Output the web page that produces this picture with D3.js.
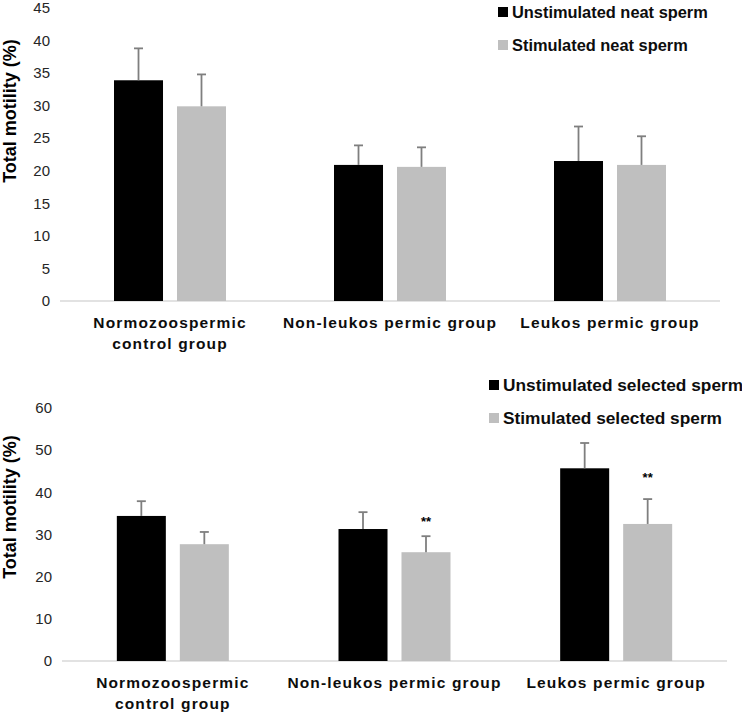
<!DOCTYPE html>
<html>
<head>
<meta charset="utf-8">
<script src="https://cdn.jsdelivr.net/npm/d3@7"></script>
<style>
  body { margin: 0; background: #fff; }
  svg { font-family: "Liberation Sans", Arial, sans-serif; }
</style>
</head>
<body>
<div id="chart"></div>
<script>
// Groups (two-line labels split with \n)
var groups = ["Normozoospermic\ncontrol group", "Non-leukos permic group", "Leukos permic group"];

// Top panel: neat sperm
var neatSeries = ["Unstimulated neat sperm", "Stimulated neat sperm"];
var neatUnstim = [33.9, 20.9, 21.5];
var neatUnstimErr = [4.9, 3.0, 5.3];
var neatStim = [29.9, 20.6, 20.9];
var neatStimErr = [4.9, 3.0, 4.4];
var neatTicks = [0, 5, 10, 15, 20, 25, 30, 35, 40, 45];

// Bottom panel: selected sperm
var selSeries = ["Unstimulated selected sperm", "Stimulated selected sperm"];
var selUnstim = [34.4, 31.3, 45.7];
var selUnstimErr = [3.5, 4.0, 6.0];
var selStim = [27.7, 25.8, 32.5];
var selStimErr = [2.9, 3.8, 5.9];
var selTicks = [0, 10, 20, 30, 40, 50, 60];
var selStars = ["", "**", "**"];

var colors = ["#000000", "#bfbfbf"];

var svg = d3.select("#chart").append("svg")
    .attr("width", 742)
    .attr("height", 714);

function drawPanel(opt) {
    var x = d3.scaleBand().domain(groups).range([opt.x0, opt.x1]);
    var y = d3.scaleLinear().domain(opt.domain).range([opt.yBottom, opt.yTop]);
    var x1 = d3.scaleBand().domain(opt.series)
        .range([(x.bandwidth() - 112) / 2, (x.bandwidth() + 112) / 2])
        .paddingInner(0.222);

    var g = svg.append("g");

    // tick labels, no tick marks
    g.selectAll(".tick-label")
        .data(opt.ticks)
        .enter().append("text")
        .attr("x", opt.x0 - 10)
        .attr("y", d => y(d))
        .attr("dy", "0.35em")
        .attr("text-anchor", "end")
        .style("font-size", "15px")
        .style("fill", "#262626")
        .text(d => d);

    // baseline
    g.append("line")
        .attr("x1", opt.x0).attr("x2", opt.x1)
        .attr("y1", y(0)).attr("y2", y(0))
        .attr("stroke", "#d9d9d9")
        .attr("stroke-width", 1.5);

    var rows = groups.map((grp, i) => ({
        grp: grp,
        vals: [
            { s: opt.series[0], v: opt.a[i], e: opt.aErr[i], c: colors[0] },
            { s: opt.series[1], v: opt.b[i], e: opt.bErr[i], c: colors[1] }
        ],
        star: opt.stars ? opt.stars[i] : ""
    }));

    var grpG = g.selectAll(".grp")
        .data(rows)
        .enter().append("g")
        .attr("transform", d => "translate(" + x(d.grp) + ",0)");

    grpG.selectAll("rect")
        .data(d => d.vals)
        .enter().append("rect")
        .attr("x", d => x1(d.s))
        .attr("width", x1.bandwidth())
        .attr("y", d => y(d.v))
        .attr("height", d => y(0) - y(d.v))
        .attr("fill", d => d.c);

    // upward error bars
    var eb = grpG.selectAll(".err")
        .data(d => d.vals)
        .enter().append("g");
    eb.append("line")
        .attr("x1", d => x1(d.s) + x1.bandwidth() / 2)
        .attr("x2", d => x1(d.s) + x1.bandwidth() / 2)
        .attr("y1", d => y(d.v))
        .attr("y2", d => y(d.v + d.e))
        .attr("stroke", "#7f7f7f")
        .attr("stroke-width", 1.8);
    eb.append("line")
        .attr("x1", d => x1(d.s) + x1.bandwidth() / 2 - 4.5)
        .attr("x2", d => x1(d.s) + x1.bandwidth() / 2 + 4.5)
        .attr("y1", d => y(d.v + d.e))
        .attr("y2", d => y(d.v + d.e))
        .attr("stroke", "#7f7f7f")
        .attr("stroke-width", 1.8);

    // significance stars
    grpG.append("text")
        .attr("x", d => x1(opt.series[1]) + x1.bandwidth() / 2)
        .attr("y", d => y(d.vals[1].v + d.vals[1].e) - (d.vals[1].e > 5 ? 17 : 10))
        .attr("text-anchor", "middle")
        .style("font-size", "13px")
        .style("font-weight", "bold")
        .text(d => d.star);

    // category labels
    var lab = grpG.append("text")
        .attr("text-anchor", "middle")
        .attr("y", y(0) + 27)
        .style("font-size", "15.5px")
        .style("font-weight", "bold")
        .style("letter-spacing", "1.15px")
        .style("fill", "#0d0d0d");
    lab.selectAll("tspan")
        .data(d => d.grp.split("\n"))
        .enter().append("tspan")
        .attr("x", x.bandwidth() / 2)
        .attr("dy", (d, i) => i ? 21 : 0)
        .text(d => d);

    // y axis title
    g.append("text")
        .attr("transform", "translate(16," + opt.titleY + ") rotate(-90)")
        .attr("text-anchor", "middle")
        .style("font-size", "18px")
        .style("font-weight", "bold")
        .text("Total motility (%)");

    // legend
    var leg = g.selectAll(".leg")
        .data(opt.series)
        .enter().append("g")
        .attr("transform", (d, i) => "translate(" + opt.legX + "," + (opt.legY + i * 33) + ")");
    leg.append("rect")
        .attr("x", 0).attr("y", -5)
        .attr("width", 10).attr("height", 10)
        .attr("fill", (d, i) => colors[i]);
    leg.append("text")
        .attr("x", 14)
        .attr("dy", "0.35em")
        .style("font-size", opt.legFont + "px")
        .style("font-weight", "bold")
        .style("fill", "#0d0d0d")
        .text(d => d);
}

drawPanel({
    series: neatSeries, a: neatUnstim, aErr: neatUnstimErr, b: neatStim, bErr: neatStimErr,
    ticks: neatTicks, domain: [0, 45], yBottom: 301, yTop: 8,
    x0: 60, x1: 720, titleY: 111, legX: 498, legY: 12, legFont: 16.4
});

drawPanel({
    series: selSeries, a: selUnstim, aErr: selUnstimErr, b: selStim, bErr: selStimErr,
    ticks: selTicks, domain: [0, 60], yBottom: 661, yTop: 408, stars: selStars,
    x0: 62, x1: 727, titleY: 507, legX: 489, legY: 385, legFont: 17.3
});
</script>
</body>
</html>
